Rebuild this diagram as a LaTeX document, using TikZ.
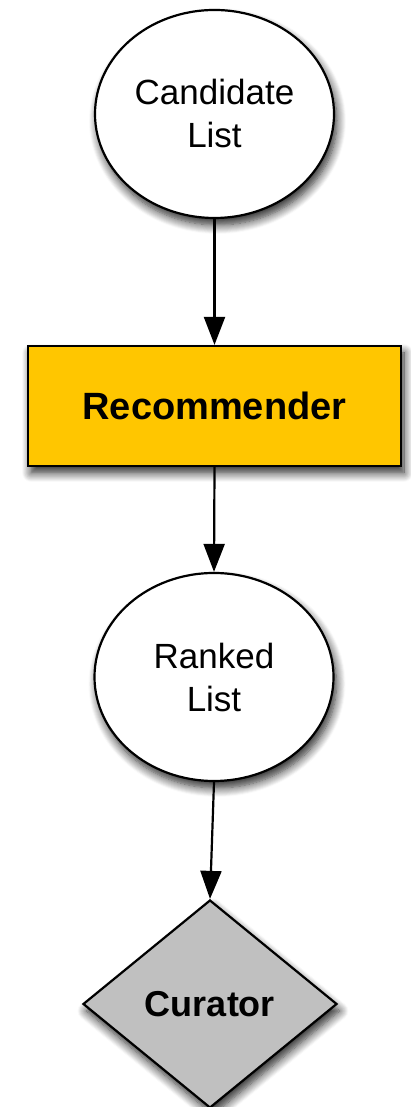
\documentclass[tikz,border=0pt]{standalone}
\usepackage{fontspec}
\setmainfont{Liberation Sans}
\usetikzlibrary{shapes.geometric,arrows.meta,shadows.blur}
\tikzset{
  softshadow/.style={blur shadow={shadow xshift=3pt,shadow yshift=-7pt,shadow blur radius=9pt,shadow blur steps=10,shadow opacity=85}},
  listnode/.style={ellipse,draw,line width=2.2pt,fill=white,minimum width=239pt,minimum height=208pt,inner sep=0pt,align=center,font=\fontsize{35}{43}\selectfont,softshadow},
  flowarrow/.style={line width=2.2pt,-{Triangle[length=28pt,width=21pt]}}
}
\definecolor{recgold}{HTML}{FFC600}
\definecolor{curgray}{HTML}{C0C0C0}
\begin{document}
\begin{tikzpicture}[x=1pt,y=1pt]
            \useasboundingbox (0,0) rectangle (411,1107);

            % Drawing node Candidate List
            \node [listnode] (cand) at (214.5,993) {Candidate\\List};%

            % Drawing node Recommender
            \node [draw,line width=2.2pt,fill=recgold,minimum width=373pt,minimum height=120pt,inner sep=0pt,font=\fontsize{38}{45}\selectfont\bfseries,softshadow] (rec) at (214.5,701) {Recommender};%

            % Drawing node Ranked List
            \node [listnode] (ranked) at (214,430) {Ranked\\List};%

            % Drawing node Curator
            \node [diamond,draw,line width=2.2pt,fill=curgray,minimum width=254pt,minimum height=208pt,inner sep=0pt,font=\fontsize{36}{43}\selectfont\bfseries,softshadow] (cur) at (210,103) {Curator};%

            % Drawing arrows
            \draw [flowarrow] (cand.south) -- (rec.north);%
            \draw [flowarrow] (rec.south) -- (ranked.north);%
            \draw [flowarrow] (ranked.south) -- (cur.north);%
\end{tikzpicture}
\end{document}
